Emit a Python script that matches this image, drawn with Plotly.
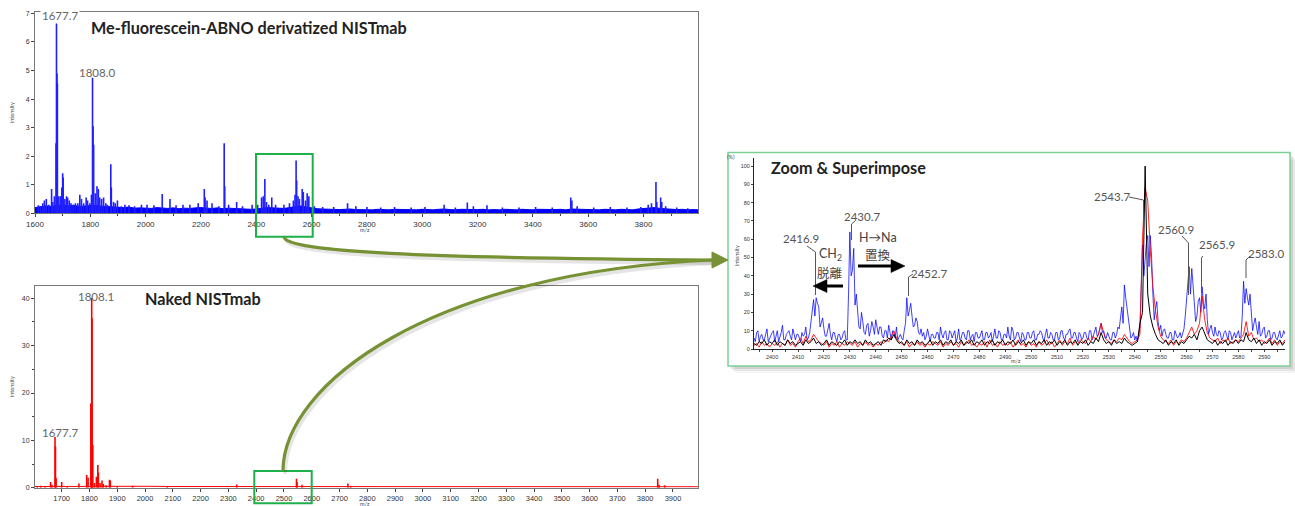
import plotly.graph_objects as go

# ---------------- DATA ----------------
# Top spectrum: Me-fluorescein-ABNO derivatized NISTmab (blue), intensity
deriv_peak_mz = [1612, 1620, 1628, 1634, 1641, 1650, 1660, 1664, 1670, 1676, 1677.7, 1679.5, 1681, 1686,
                 1692, 1697, 1700, 1702, 1708, 1714, 1718, 1724, 1730, 1738, 1746, 1755, 1762, 1768,
                 1776, 1785, 1790, 1798, 1804, 1808.0, 1810, 1812, 1818, 1824, 1829, 1834, 1841, 1848,
                 1856, 1862, 1874, 1876, 1884, 1890, 1898, 1912, 1925, 1940, 1960, 1985, 2005, 2030,
                 2060, 2088, 2110, 2135, 2160, 2190, 2212, 2215, 2222, 2240, 2265, 2284, 2286, 2300,
                 2329, 2350, 2385, 2405, 2419, 2425, 2431, 2437, 2445, 2456, 2470, 2500, 2520, 2534,
                 2540, 2544, 2546, 2551, 2556, 2566, 2570, 2578, 2584, 2590, 2610, 2640, 2680, 2730,
                 2760, 2800, 2850, 2900, 2960, 3010, 3079, 3120, 3163, 3185, 3234, 3290, 3350, 3410,
                 3470, 3537, 3541, 3560, 3620, 3680, 3740, 3790, 3817, 3829, 3845, 3848, 3862, 3866,
                 3880, 3920, 3960]
deriv_peak_int = [0.28, 0.25, 0.35, 0.45, 0.5, 0.3, 0.85, 0.4, 0.6, 2.45, 6.7, 4.9, 4.55, 0.6,
                  0.6, 0.9, 1.4, 1.25, 0.5, 0.6, 0.55, 0.45, 0.35, 0.3, 0.35, 0.35, 0.65, 0.5,
                  0.35, 0.55, 0.45, 0.35, 0.65, 4.75, 3.05, 2.4, 0.7, 0.95, 0.85, 0.55, 0.5, 0.55,
                  0.35, 0.3, 1.72, 0.9, 0.4, 0.35, 0.45, 0.25, 0.3, 0.28, 0.25, 0.3, 0.3, 0.28,
                  0.68, 0.5, 0.28, 0.3, 0.3, 0.35, 0.85, 0.55, 0.45, 0.35, 0.25, 2.45, 0.95, 0.3,
                  0.4, 0.25, 0.3, 0.3, 0.55, 0.6, 1.2, 0.4, 0.3, 0.55, 0.3, 0.3, 0.35, 0.45,
                  0.65, 1.85, 1.15, 0.6, 0.5, 0.85, 0.75, 0.45, 0.7, 0.6, 0.25, 0.22, 0.22, 0.35,
                  0.25, 0.22, 0.2, 0.22, 0.2, 0.22, 0.3, 0.2, 0.38, 0.25, 0.28, 0.2, 0.2, 0.22,
                  0.2, 0.55, 0.45, 0.25, 0.2, 0.22, 0.2, 0.22, 0.3, 0.35, 1.1, 0.4, 0.55, 0.4,
                  0.25, 0.2, 0.18]
deriv_base_mz = list(range(1600, 4001, 20))
deriv_base_int = [0.20, 0.22, 0.26, 0.24, 0.28, 0.30, 0.26, 0.28, 0.24, 0.25,
                  0.26, 0.28, 0.25, 0.24, 0.22, 0.21, 0.20, 0.22, 0.18, 0.19,
                  0.18, 0.17, 0.20, 0.18, 0.17, 0.19, 0.16, 0.18, 0.17, 0.19,
                  0.20, 0.18, 0.17, 0.19, 0.16, 0.18, 0.17, 0.15, 0.16, 0.14,
                  0.15, 0.18, 0.20, 0.19, 0.18, 0.17, 0.20, 0.24, 0.26, 0.22,
                  0.18, 0.16, 0.15, 0.14, 0.15, 0.13, 0.14, 0.15, 0.13, 0.12,
                  0.13, 0.12, 0.14, 0.13, 0.12, 0.14, 0.13, 0.12, 0.13, 0.12,
                  0.14, 0.13, 0.12, 0.14, 0.15, 0.13, 0.12, 0.14, 0.13, 0.12,
                  0.13, 0.14, 0.12, 0.13, 0.12, 0.14, 0.13, 0.12, 0.14, 0.13,
                  0.12, 0.14, 0.13, 0.12, 0.13, 0.14, 0.12, 0.15, 0.14, 0.13,
                  0.12, 0.13, 0.12, 0.14, 0.13, 0.12, 0.14, 0.13, 0.12, 0.15,
                  0.16, 0.18, 0.20, 0.17, 0.15, 0.14, 0.13, 0.14, 0.12, 0.13,
                  0.12]

# Bottom spectrum: Naked NISTmab (red), intensity
naked_peak_mz = [1612, 1625, 1640, 1660, 1665, 1676, 1677.7, 1680, 1700, 1720, 1762, 1790, 1795,
                 1805, 1808.1, 1809.5, 1812, 1818, 1825, 1830, 1832, 1838, 1845, 1850, 1860, 1872,
                 1875, 1900, 1955, 2080, 2330, 2545, 2547, 2565, 2730, 2740, 3845, 3850, 3870]
naked_peak_int = [0.3, 0.4, 0.3, 1.2, 0.6, 10.7, 8.7, 2.0, 1.2, 0.3, 0.9, 2.7, 2.1,
                  17.8, 40.1, 35.8, 9.0, 1.0, 2.3, 4.8, 3.2, 1.0, 1.5, 0.8, 0.5, 1.7,
                  1.5, 0.3, 0.4, 0.3, 0.7, 1.9, 1.2, 0.6, 0.9, 0.4, 1.9, 0.6, 0.5]
naked_base_mz = list(range(1600, 4001, 100))
naked_base_int = [0.25, 0.3, 0.3, 0.35, 0.3, 0.25, 0.25, 0.2, 0.25, 0.2, 0.2, 0.25, 0.2,
                  0.2, 0.25, 0.2, 0.2, 0.2, 0.25, 0.2, 0.2, 0.2, 0.2, 0.25, 0.2]

# Zoom & superimpose (intensity %), one value per m/z unit from 2393 to 2598
zoom_mz_start = 2393
zoom_blue = [6, 9, 4, 8, 5, 11, 6,
             9, 4, 10, 6, 13, 5, 9, 7, 11, 5,
             8, 4, 7, 12, 6, 16, 27, 28, 23, 14,
             11, 7, 14, 5, 9, 4, 8, 6, 10, 5,
             64, 43, 24, 18, 11, 15, 8, 14, 10, 12,
             16, 8, 12, 6, 10, 13, 5, 9, 12, 7,
             6, 10, 28, 21, 18, 13, 15, 8, 7, 5,
             11, 4, 8, 6, 9, 12, 6, 10, 5, 9,
             8, 4, 11, 6, 9, 5, 10, 7, 4, 9,
             6, 10, 5, 9, 7, 4, 11, 6, 9, 5,
             8, 12, 5, 10, 6, 9, 4, 8, 5, 9,
             6, 10, 5, 8, 9, 4, 11, 6, 8, 5,
             9, 6, 10, 5, 8, 11, 6, 9, 4, 8,
             6, 9, 5, 10, 7, 12, 8, 14, 10, 6,
             7, 5, 9, 8, 11, 23, 35, 22, 11, 7,
             5, 4, 12, 57, 50, 62, 62, 30, 22, 15,
             13, 10, 8, 6, 9, 5, 8, 7, 6, 11,
             28, 45, 44, 25, 18, 28, 34, 22, 16, 11,
             9, 12, 7, 9, 6, 10, 5, 9, 7, 6,
             10, 7, 37, 33, 24, 20, 14, 12, 15, 8,
             12, 7, 10, 6, 9, 5, 10, 7, 8]
# blue readings at the half-unit positions (2393.5 ... 2597.5)
zoom_blue_half = [4, 10, 7, 5, 8, 4, 7,
                  10, 7, 4, 9, 5, 8, 10, 5, 7, 8,
                  6, 9, 8, 5, 9, 22, 18, 25, 12, 17,
                  7, 10, 8, 9, 6, 8, 5, 9, 5, 30,
                  40, 55, 30, 12, 20, 9, 13, 7, 15, 8,
                  11, 12, 7, 10, 6, 9, 10, 6, 5, 8,
                  5, 14, 18, 25, 12, 17, 9, 11, 9, 7,
                  7, 8, 6, 9, 5, 8, 9, 5, 10, 6,
                  10, 6, 5, 9, 6, 10, 5, 8, 9, 6,
                  8, 5, 9, 6, 9, 7, 6, 10, 5, 8,
                  6, 7, 12, 5, 9, 6, 9, 5, 9, 6,
                  9, 5, 8, 10, 6, 8, 6, 9, 5, 9,
                  5, 10, 6, 8, 10, 6, 9, 6, 9, 5,
                  9, 6, 10, 5, 9, 7, 11, 9, 6, 9,
                  5, 9, 6, 12, 17, 14, 28, 16, 6, 9,
                  7, 7, 35, 40, 58, 45, 50, 16, 26, 10,
                  7, 11, 6, 9, 5, 10, 6, 9, 8, 18,
                  38, 30, 35, 15, 26, 20, 25, 30, 8, 13,
                  7, 8, 10, 5, 9, 7, 10, 5, 9, 8,
                  6, 18, 25, 28, 30, 10, 17, 8, 7, 11,
                  6, 10, 5, 9, 6, 8, 6, 10]
zoom_red = [2, 3, 1, 4, 2, 3, 1,
            3, 2, 4, 1, 3, 2, 5, 2, 3, 1,
            4, 6, 3, 7, 4, 5, 8, 6, 4, 3,
            2, 4, 1, 3, 2, 4, 1, 3, 2, 4,
            3, 2, 4, 1, 3, 2, 4, 2, 3, 1,
            3, 2, 4, 3, 5, 4, 7, 10, 6, 4,
            3, 2, 4, 1, 3, 2, 4, 2, 3, 1,
            3, 2, 4, 3, 2, 4, 1, 3, 2, 4,
            2, 3, 1, 4, 2, 3, 5, 2, 3, 1,
            3, 2, 4, 1, 5, 2, 3, 1, 4, 2,
            3, 2, 4, 1, 3, 5, 2, 3, 1, 4,
            2, 3, 1, 4, 2, 3, 5, 2, 4, 1,
            3, 5, 2, 4, 3, 6, 2, 4, 3, 5,
            4, 3, 6, 4, 7, 5, 8, 14, 9, 5,
            4, 3, 5, 4, 6, 5, 8, 6, 4, 3,
            4, 5, 8, 61, 88, 81, 54, 34, 21, 12,
            7, 5, 4, 3, 5, 2, 4, 3, 5, 4,
            6, 9, 12, 8, 10, 14, 29, 16, 9, 6,
            5, 4, 6, 3, 5, 4, 6, 3, 4, 5,
            4, 6, 8, 15, 7, 9, 5, 6, 4, 5,
            3, 4, 6, 3, 5, 2, 4, 3, 5]
zoom_black = [3, 2, 4, 3, 5, 2, 4,
              3, 5, 2, 4, 3, 2, 5, 3, 4, 2,
              3, 4, 2, 5, 3, 4, 6, 3, 4, 2,
              3, 5, 2, 4, 3, 2, 4, 3, 5, 2,
              4, 3, 5, 3, 4, 2, 5, 3, 4, 2,
              3, 4, 2, 5, 4, 6, 5, 8, 5, 3,
              4, 2, 5, 3, 4, 2, 5, 3, 4, 2,
              3, 5, 2, 4, 3, 5, 2, 4, 3, 5,
              2, 4, 3, 5, 2, 4, 3, 5, 2, 4,
              3, 5, 2, 4, 3, 5, 2, 4, 3, 5,
              2, 4, 3, 5, 2, 4, 3, 5, 2, 4,
              3, 5, 2, 4, 3, 5, 2, 4, 3, 5,
              2, 4, 3, 5, 2, 4, 3, 5, 2, 4,
              3, 5, 2, 4, 3, 6, 4, 9, 5, 3,
              4, 2, 5, 3, 4, 3, 6, 4, 3, 2,
              3, 4, 14, 20, 100, 30, 18, 12, 8, 5,
              4, 3, 5, 2, 4, 3, 5, 2, 4, 3,
              5, 7, 6, 8, 5, 10, 12, 8, 5, 4,
              3, 5, 2, 4, 3, 5, 2, 4, 3, 5,
              3, 5, 4, 9, 5, 4, 6, 3, 5, 2,
              4, 3, 5, 2, 4, 3, 5, 2, 4]
assert len(zoom_blue) == len(zoom_red) == len(zoom_black) == 206
assert len(zoom_blue_half) == 205
zoom_mz = [zoom_mz_start + i for i in range(len(zoom_blue))]
blue_x, blue_y = [], []
for i, v in enumerate(zoom_blue):
    blue_x.append(zoom_mz_start + i)
    blue_y.append(v)
    if i < len(zoom_blue_half):
        blue_x.append(zoom_mz_start + i + 0.5)
        blue_y.append(zoom_blue_half[i])

top_ticks = list(range(1600, 3801, 200))
bottom_ticks = list(range(1700, 3901, 100))
zoom_ticks = list(range(2400, 2591, 10))

# ---------------- FIGURE ----------------
W, H = 1295, 506


def PX(x):
    return x / W


def PY(y):
    return 1 - y / H


def sticks(mz, inten):
    xs, ys = [], []
    for m, v in zip(mz, inten):
        xs += [m, m, None]
        ys += [0, v, None]
    return xs, ys


fig = go.Figure()

# top spectrum
fig.add_trace(go.Scatter(x=deriv_base_mz, y=deriv_base_int, mode='lines', fill='tozeroy',
                         line=dict(color='#0000ff', width=1), fillcolor='#0000ff',
                         xaxis='x', yaxis='y', hoverinfo='skip'))
sx, sy = sticks(deriv_peak_mz, deriv_peak_int)
fig.add_trace(go.Scatter(x=sx, y=sy, mode='lines', line=dict(color='#1f1fff', width=1.6),
                         xaxis='x', yaxis='y'))

# bottom spectrum
fig.add_trace(go.Scatter(x=naked_base_mz, y=naked_base_int, mode='lines',
                         line=dict(color='#ff0000', width=1), xaxis='x2', yaxis='y2', hoverinfo='skip'))
sx, sy = sticks(naked_peak_mz, naked_peak_int)
fig.add_trace(go.Scatter(x=sx, y=sy, mode='lines', line=dict(color='#ff0000', width=1.6),
                         xaxis='x2', yaxis='y2'))

# zoom traces
fig.add_trace(go.Scatter(x=blue_x, y=blue_y, mode='lines', line=dict(color='rgba(0,0,255,0.75)', width=1),
                         xaxis='x3', yaxis='y3'))
fig.add_trace(go.Scatter(x=zoom_mz, y=zoom_red, mode='lines', line=dict(color='rgba(255,0,0,0.85)', width=1),
                         xaxis='x3', yaxis='y3'))
fig.add_trace(go.Scatter(x=zoom_mz, y=zoom_black, mode='lines', line=dict(color='#000000', width=1),
                         xaxis='x3', yaxis='y3'))

tickfont = dict(family='Liberation Sans', size=8, color='#333')
base_axis = dict(showgrid=False, zeroline=False, ticks='outside', ticklen=3, tickwidth=1,
                 tickcolor='#444', showline=True, linewidth=1, fixedrange=True, automargin=False)

fig.update_layout(
    width=W, height=H, margin=dict(l=0, r=0, t=0, b=0, pad=0, autoexpand=False),
    paper_bgcolor='white', plot_bgcolor='rgba(0,0,0,0)', showlegend=False,
    xaxis=dict(base_axis, domain=[PX(35), PX(698)], range=[1600, 3997], anchor='y',
               tickvals=top_ticks, tickfont=tickfont, linecolor='#777', mirror=True,
               minor=dict(dtick=100, tick0=1600, ticks='outside', ticklen=2, tickcolor='#444')),
    yaxis=dict(base_axis, domain=[PY(213.3), PY(12)], range=[0, 7.05], anchor='x',
               dtick=1, tickfont=dict(tickfont, size=7), linecolor='#777', mirror=True),
    xaxis2=dict(base_axis, domain=[PX(35), PX(698)], range=[1604, 3990], anchor='y2',
                tickvals=bottom_ticks, tickfont=dict(tickfont, size=7.5), linecolor='#777', mirror=True),
    yaxis2=dict(base_axis, domain=[PY(487.7), PY(286)], range=[0, 42.6], anchor='x2',
                dtick=10, tickfont=dict(tickfont, size=7), linecolor='#777', mirror=True,
                minor=dict(dtick=5, ticks='outside', ticklen=2, tickcolor='#444')),
    xaxis3=dict(base_axis, domain=[PX(754), PX(1285)], range=[2393, 2598], anchor='y3',
                tickvals=zoom_ticks, tickfont=dict(tickfont, size=5.5), linecolor='#222', ticklen=2,
                minor=dict(dtick=5, tick0=2395, ticks='outside', ticklen=1.5, tickcolor='#444')),
    yaxis3=dict(base_axis, domain=[PY(349), PY(158.4)], range=[0, 104.2], anchor='x3',
                dtick=10, tickfont=dict(tickfont, size=5.5), linecolor='#222', ticklen=2),
)

shapes = []
# zoom panel shadow + frame
for off, a in [(7, 0.04), (5, 0.06), (3, 0.09)]:
    shapes.append(dict(type='rect', xref='paper', yref='paper', layer='below',
                       x0=PX(728 + off), x1=PX(1290 + off), y0=PY(366 + off), y1=PY(153 + off),
                       fillcolor='rgba(0,0,0,%s)' % a, line=dict(width=0)))
shapes.append(dict(type='rect', xref='paper', yref='paper', layer='below',
                   x0=PX(728), x1=PX(1290), y0=PY(366), y1=PY(152.5),
                   fillcolor='white', line=dict(color='#7ccf94', width=1.5)))

# green selection boxes
shapes.append(dict(type='rect', xref='paper', yref='paper', layer='above',
                   x0=PX(256), x1=PX(312.7), y0=PY(236.7), y1=PY(154),
                   line=dict(color='#1db04b', width=2)))
shapes.append(dict(type='rect', xref='paper', yref='paper', layer='above',
                   x0=PX(254.3), x1=PX(311.7), y0=PY(503.3), y1=PY(471),
                   line=dict(color='#1db04b', width=2)))


def cpath(pts):
    (x0, y0), (x1, y1), (x2, y2), (x3, y3) = pts
    return 'M %f,%f C %f,%f %f,%f %f,%f' % (PX(x0), PY(y0), PX(x1), PY(y1), PX(x2), PY(y2), PX(x3), PY(y3))


olive = '#779234'
curve1 = [(284, 237), (288, 252), (420, 258), (714, 260)]
curve2 = [(283, 471), (283, 385), (430, 272), (714, 260)]
for c in (curve1, curve2):
    sh = [(x + 2, y + 3) for x, y in c]
    shapes.append(dict(type='path', xref='paper', yref='paper', layer='above', path=cpath(sh),
                       line=dict(color='rgba(0,0,0,0.10)', width=4)))
for c in (curve1, curve2):
    shapes.append(dict(type='path', xref='paper', yref='paper', layer='above', path=cpath(c),
                       line=dict(color=olive, width=3.2)))
shapes.append(dict(type='path', xref='paper', yref='paper', layer='above',
                   path='M %f,%f L %f,%f L %f,%f Z' % (PX(712), PY(252), PX(728), PY(260), PX(712), PY(268)),
                   fillcolor=olive, line=dict(color=olive, width=1)))


# leader lines in zoom panel (pixel space -> paper)
def lpath(pts):
    return 'M ' + ' L '.join('%f,%f' % (PX(x), PY(y)) for x, y in pts)


leaders = [
    [(807, 246), (815.5, 252), (815.5, 295)],
    [(855, 221), (851.5, 224), (851.5, 240)],
    [(913, 274), (908.5, 277), (908.5, 296)],
    [(1129, 197), (1143.5, 200), (1143.5, 230)],
    [(1182, 236), (1188.5, 243), (1188.5, 295)],
    [(1203, 256), (1201.5, 258), (1201.5, 293)],
    [(1250, 256), (1246, 260), (1246, 278)],
]
for pts in leaders:
    shapes.append(dict(type='path', xref='paper', yref='paper', layer='above', path=lpath(pts),
                       line=dict(color='#555', width=1)))

# thick black arrows: shaft + filled head
arrows = [(843, 286, 813, 286), (858, 266, 905, 266)]
for (x0, y0, x1, y1) in arrows:
    d = 1 if x1 > x0 else -1
    hx = x1 - d * 14
    shapes.append(dict(type='line', xref='paper', yref='paper', layer='above',
                       x0=PX(x0), y0=PY(y0), x1=PX(hx), y1=PY(y1), line=dict(color='#000', width=3)))
    shapes.append(dict(type='path', xref='paper', yref='paper', layer='above',
                       path='M %f,%f L %f,%f L %f,%f Z' % (PX(hx), PY(y1 - 6.5), PX(x1), PY(y1),
                                                           PX(hx), PY(y1 + 6.5)),
                       fillcolor='#000', line=dict(color='#000', width=0.5)))

fig.update_layout(shapes=shapes)

ann = []


def text(x, y, s, size, color='#555', family='Lato', bold=False, angle=0, bg=None):
    d = dict(x=PX(x), y=PY(y), xref='paper', yref='paper', text=('<b>%s</b>' % s) if bold else s,
             showarrow=False, xanchor='center', yanchor='middle', textangle=angle,
             font=dict(family=family, size=size, color=color))
    if bg:
        d['bgcolor'] = bg
    ann.append(d)


text(249.5, 27, 'Me-fluorescein-ABNO derivatized NISTmab', 16.2, '#222', bold=True)
text(202.5, 298, 'Naked NISTmab', 16.2, '#222', bold=True)
text(848, 167, 'Zoom &amp; Superimpose', 16.2, '#222', bold=True)

text(60, 15, '1677.7', 11.5, '#666', bg='white')
text(96.5, 72, '1808.0', 11.5, '#666')
text(96, 296, '1808.1', 11.5, '#666')
text(59.5, 432, '1677.7', 11.5, '#666')

text(801, 239, '2416.9', 11.5)
text(862, 216, '2430.7', 11.5)
text(929, 273, '2452.7', 11.5)
text(1112, 196, '2543.7', 11.5)
text(1176, 229, '2560.9', 11.5)
text(1217, 244, '2565.9', 11.5)
text(1266, 253, '2583.0', 11.5)

text(830, 254, 'CH<sub>2</sub>', 12.5, '#444')
text(830, 272, '脱離', 12.5, '#444', family='Noto Sans CJK JP')
text(877.5, 238, 'H→Na', 12.5, '#444')
text(878.5, 254, '置換', 12.5, '#444', family='Noto Sans CJK JP')

text(12, 113, 'intensity', 5.5, '#444', angle=-90)
text(12, 387, 'intensity', 5.5, '#444', angle=-90)
text(365, 230, 'm/z', 5.5, '#444')
text(365, 503.5, 'm/z', 5.5, '#444')
text(731, 157, '(%)', 5.5, '#444')
text(737, 256, 'intensity', 5.5, '#444', angle=-90)
text(1016, 361, 'm/z', 5.5, '#444')

fig.update_layout(annotations=ann)

fig.write_html('out.html', config={'displayModeBar': False},
               post_script="document.body.style.margin='0';document.body.style.overflow='hidden';")
